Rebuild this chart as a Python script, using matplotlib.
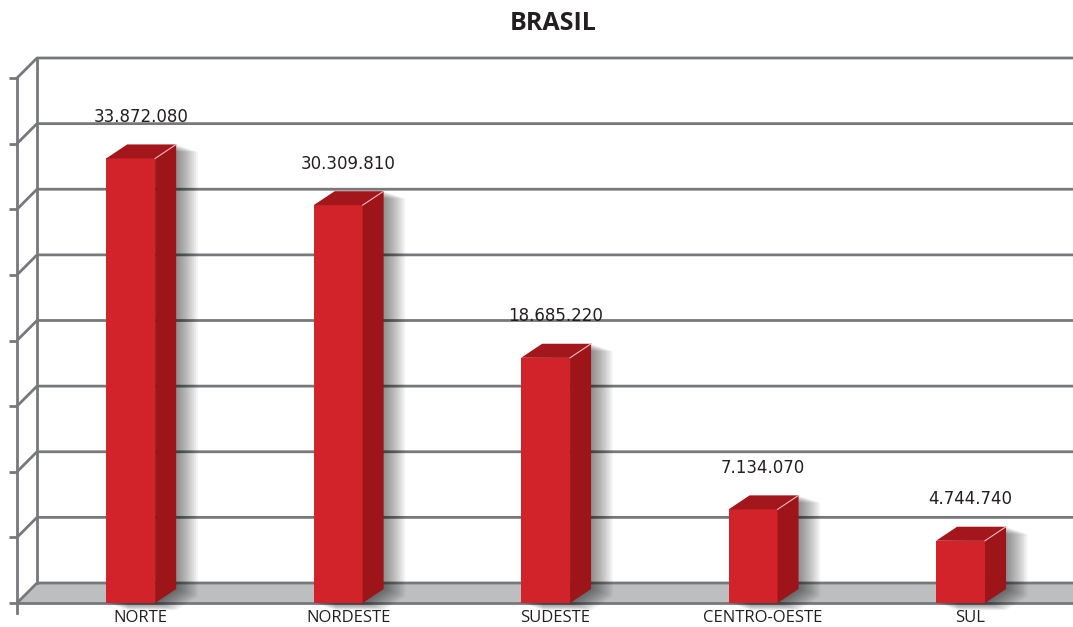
import numpy as np
import matplotlib.pyplot as plt
from matplotlib.patches import Polygon, Rectangle

regioes = ['NORTE', 'NORDESTE', 'SUDESTE', 'CENTRO-OESTE', 'SUL']
valores = [33872080, 30309810, 18685220, 7134070, 4744740]
marcas_y = np.arange(0, 40000001, 5000000)

cor_frente = '#d2232a'
cor_lado = '#9d1419'
cor_topo = '#a3161c'
cor_grade = '#77787b'
cor_piso = '#bcbec0'

fig = plt.figure(figsize=(10.73, 6.27), dpi=100)
ax = fig.add_axes([17 / 1073, 24 / 627, 1056 / 1073, 525 / 627])
xmin, xmax = -0.548, 4.542
ax.set_xlim(xmin, xmax)
ax.set_ylim(0, 40000000)
ax.axis('off')


def px(dx, dy):
    # converte deslocamento em pixels para unidades de dados
    inv = ax.transData.inverted()
    return inv.transform((dx, dy)) - inv.transform((0, 0))


wx, wy = px(20, 20)      # profundidade da parede
bx, by = px(21, 14)      # profundidade das barras
tx, _ = px(8, 0)         # tamanho do tick
_, ty = px(0, 10)
ox, _ = px(10, 0)        # deslocamento dos textos
largura = 0.236

# piso
ax.add_patch(Polygon([(xmin, 0), (xmin + wx, wy), (xmax, wy), (xmax, 0)],
                     closed=True, color=cor_piso, zorder=1, clip_on=False))

# grade da parede de fundo + ticks
for v in marcas_y:
    ax.plot([xmin, xmin + wx, xmax], [v, v + wy, v + wy], color=cor_grade,
            lw=2, zorder=2, clip_on=False, solid_capstyle='butt')
    ax.plot([xmin - tx, xmin], [v, v], color=cor_grade, lw=2, zorder=2,
            clip_on=False, solid_capstyle='butt')
ax.plot([xmin, xmin], [-ty, marcas_y[-1]], color=cor_grade, lw=2, zorder=2, clip_on=False)
ax.plot([xmin + wx, xmin + wx], [wy, marcas_y[-1] + wy], color=cor_grade, lw=2,
        zorder=2, clip_on=False)
ax.plot([xmin, xmax], [0, 0], color=cor_grade, lw=2, zorder=2, clip_on=False)

# barras
for i, (nome, v) in enumerate(zip(regioes, valores)):
    x0, x1 = i - largura / 2, i + largura / 2
    contorno = [(x0, 0), (x1, 0), (x1 + bx, by), (x1 + bx, v + by),
                (x0 + bx, v + by), (x0, v)]
    # sombra
    for k in range(1, 13):
        sx, sy = px(k * 1.8, -k * 0.6)
        ax.add_patch(Polygon([(a + sx, b + sy) for a, b in contorno], closed=True,
                             color='black', alpha=0.045, lw=0, zorder=3, clip_on=False))
    ax.add_patch(Rectangle((x0, 0), largura, v, color=cor_frente, lw=0, zorder=4))
    ax.add_patch(Polygon([(x1, 0), (x1 + bx, by), (x1 + bx, v + by), (x1, v)],
                         closed=True, color=cor_lado, lw=0, zorder=4))
    ax.add_patch(Polygon([(x0, v), (x1, v), (x1 + bx, v + by), (x0 + bx, v + by)],
                         closed=True, color=cor_topo, lw=0, zorder=4, clip_on=False))
    ax.plot([x1, x1 + bx], [v, v + by], color='#e9b9bb', lw=0.8, zorder=5, clip_on=False)

    texto = f'{v:,}'.replace(',', '.')
    ax.annotate(texto, (i + ox, v), xytext=(0, 30), textcoords='offset points',
                ha='center', va='center', fontsize=12, color='#231f20',
                family='DejaVu Sans', zorder=6)
    ax.annotate(nome, (i + ox, 0), xytext=(0, -10.5), textcoords='offset points',
                ha='center', va='center', fontsize=12, color='#231f20',
                family='Open Sans', zorder=6)

fig.text(553 / 1073, 1 - 23 / 627, 'BRASIL', ha='center', va='center',
         fontsize=18, fontweight='bold', family='Open Sans', color='#231f20')

fig.savefig('out.png', dpi=100)
